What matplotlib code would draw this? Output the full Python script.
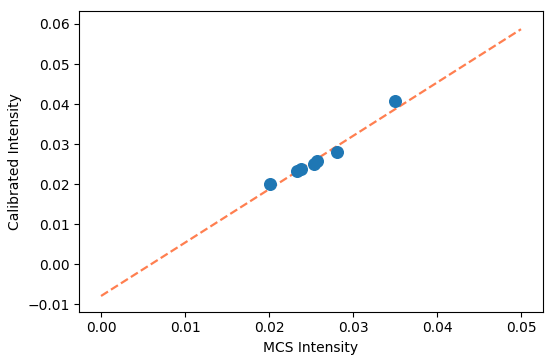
import matplotlib
matplotlib.use("Agg")
import matplotlib.pyplot as plt
import numpy as np

mcs_intensity = [0.0201, 0.0233, 0.0238, 0.0253, 0.0257, 0.0281, 0.0350]
calibrated_intensity = [0.0200, 0.0234, 0.0239, 0.0251, 0.0258, 0.0281, 0.0407]
fit_slope = 1.332
fit_intercept = -0.0079
fit_x_range = [0.0, 0.05]

fig = plt.figure(figsize=(5.5, 3.59), dpi=100)
ax = fig.add_axes([0.144, 0.132, 0.843, 0.838])
ax.scatter(mcs_intensity, calibrated_intensity, s=70, color="#1f77b4", zorder=3)
xs = np.array(fit_x_range)
ax.plot(xs, fit_slope * xs + fit_intercept, linestyle="--", color="#ff7f50", linewidth=1.6)
ax.set_xlabel("MCS Intensity", fontsize=10)
ax.set_ylabel("Calibrated Intensity", fontsize=10)
ax.set_yticks([-0.01, 0.0, 0.01, 0.02, 0.03, 0.04, 0.05, 0.06])
ax.set_xticks([0.0, 0.01, 0.02, 0.03, 0.04, 0.05])
ax.set_ylim(-0.0118, 0.0633)
ax.set_xlim(-0.0026, 0.0526)
ax.tick_params(labelsize=10)
fig.savefig("out.png", dpi=100)
